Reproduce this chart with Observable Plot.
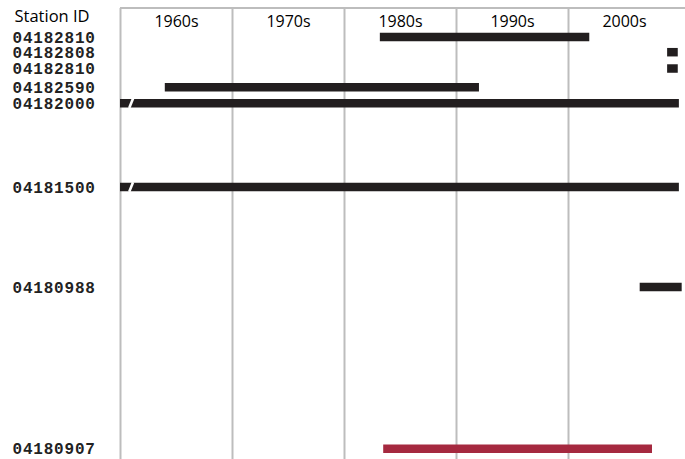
<!DOCTYPE html>
<html>
<head>
<meta charset="utf-8">
<script src="https://cdn.jsdelivr.net/npm/d3@7"></script>
<script src="https://cdn.jsdelivr.net/npm/@observablehq/plot@0.6"></script>
<style>
  html, body { margin: 0; padding: 0; background: #fff; }
  g.station-ids text { letter-spacing: 0.8px; }
</style>
</head>
<body>
<div id="chart"></div>
<script>
// Station rows (top to bottom)
const stationIds = ["04182810", "04182808", "04182810", "04182590", "04182000", "04181500", "04180988", "04180907"];
// vertical placement of each station row (relative units, downward)
const stationOrder = [0, 0.95, 1.97, 3.14, 4.14, 9.375, 15.625, 25.74];
// period of record (decimal years)
const recordStart = [1983.2, 2008.85, 2008.85, 1964.0, 1960.0, 1960.0, 2006.4, 1983.5];
const recordEnd   = [2001.9, 2009.8, 2009.8, 1992.05, 2009.9, 2009.9, 2010.15, 2007.5];
// records that extend before 1960 (broken bar)
const brokenStart = [false, false, false, false, true, true, false, false];
// highlighted station
const highlight = [false, false, false, false, false, false, false, true];

// Decades
const decadeStarts = [1960, 1970, 1980, 1990, 2000];
const decadeLabels = ["1960s", "1970s", "1980s", "1990s", "2000s"];

const rows = stationIds.map((id, i) => ({
  id, pos: stationOrder[i], start: recordStart[i], end: recordEnd[i],
  broken: brokenStart[i], hl: highlight[i]
}));
const decades = decadeStarts.map((d, i) => ({ start: d, mid: d + 5, label: decadeLabels[i] }));

const yDomain = [-1.781, 26.406];
const mono = "'Liberation Mono', 'DejaVu Sans Mono', monospace";
const sans = "'Open Sans', 'DejaVu Sans', sans-serif";

const chart = Plot.plot({
  width: 685,
  height: 459,
  marginLeft: 120,
  marginRight: 5,
  marginTop: 8,
  marginBottom: 0,
  x: { domain: [1960, 2010], axis: null },
  y: { domain: yDomain, reverse: true, axis: null },
  style: { background: "#fff", overflow: "visible" },
  marks: [
    Plot.ruleX(decades, { x: "start", stroke: "#bdbdbd", strokeWidth: 2 }),
    Plot.ruleY([yDomain[0]], { x1: 1960, x2: 2010.45, stroke: "#bdbdbd", strokeWidth: 2, dy: -0.6 }),
    Plot.text(decades, {
      x: "mid", text: "label", frameAnchor: "top", lineAnchor: "bottom", dy: 18.7,
      fontFamily: sans, fontSize: 16, fill: "#000"
    }),
    Plot.ruleY(rows, {
      y: "pos", x1: "start", x2: "end", strokeWidth: 8.5,
      stroke: d => d.hl ? "#a5293f" : "#221e1f"
    }),
    Plot.link(rows.filter(d => d.broken), {
      x1: d => d.start + 0.78, x2: d => d.start + 1.12,
      y1: d => d.pos + 0.3, y2: d => d.pos - 0.3,
      stroke: "#fff", strokeWidth: 2.6
    }),
    Plot.text(rows, {
      y: "pos", text: "id", frameAnchor: "left", textAnchor: "start", dx: -108, dy: 0.5,
      fontFamily: mono, fontWeight: "bold", fontSize: 16, fill: "#222",
      className: "station-ids"
    }),
    Plot.text(["Station ID"], {
      text: d => d, frameAnchor: "top-left", textAnchor: "start", lineAnchor: "bottom", dx: -106, dy: 13,
      fontFamily: sans, fontSize: 16.5, fill: "#000"
    })
  ]
});
document.getElementById("chart").append(chart);
</script>
</body>
</html>
